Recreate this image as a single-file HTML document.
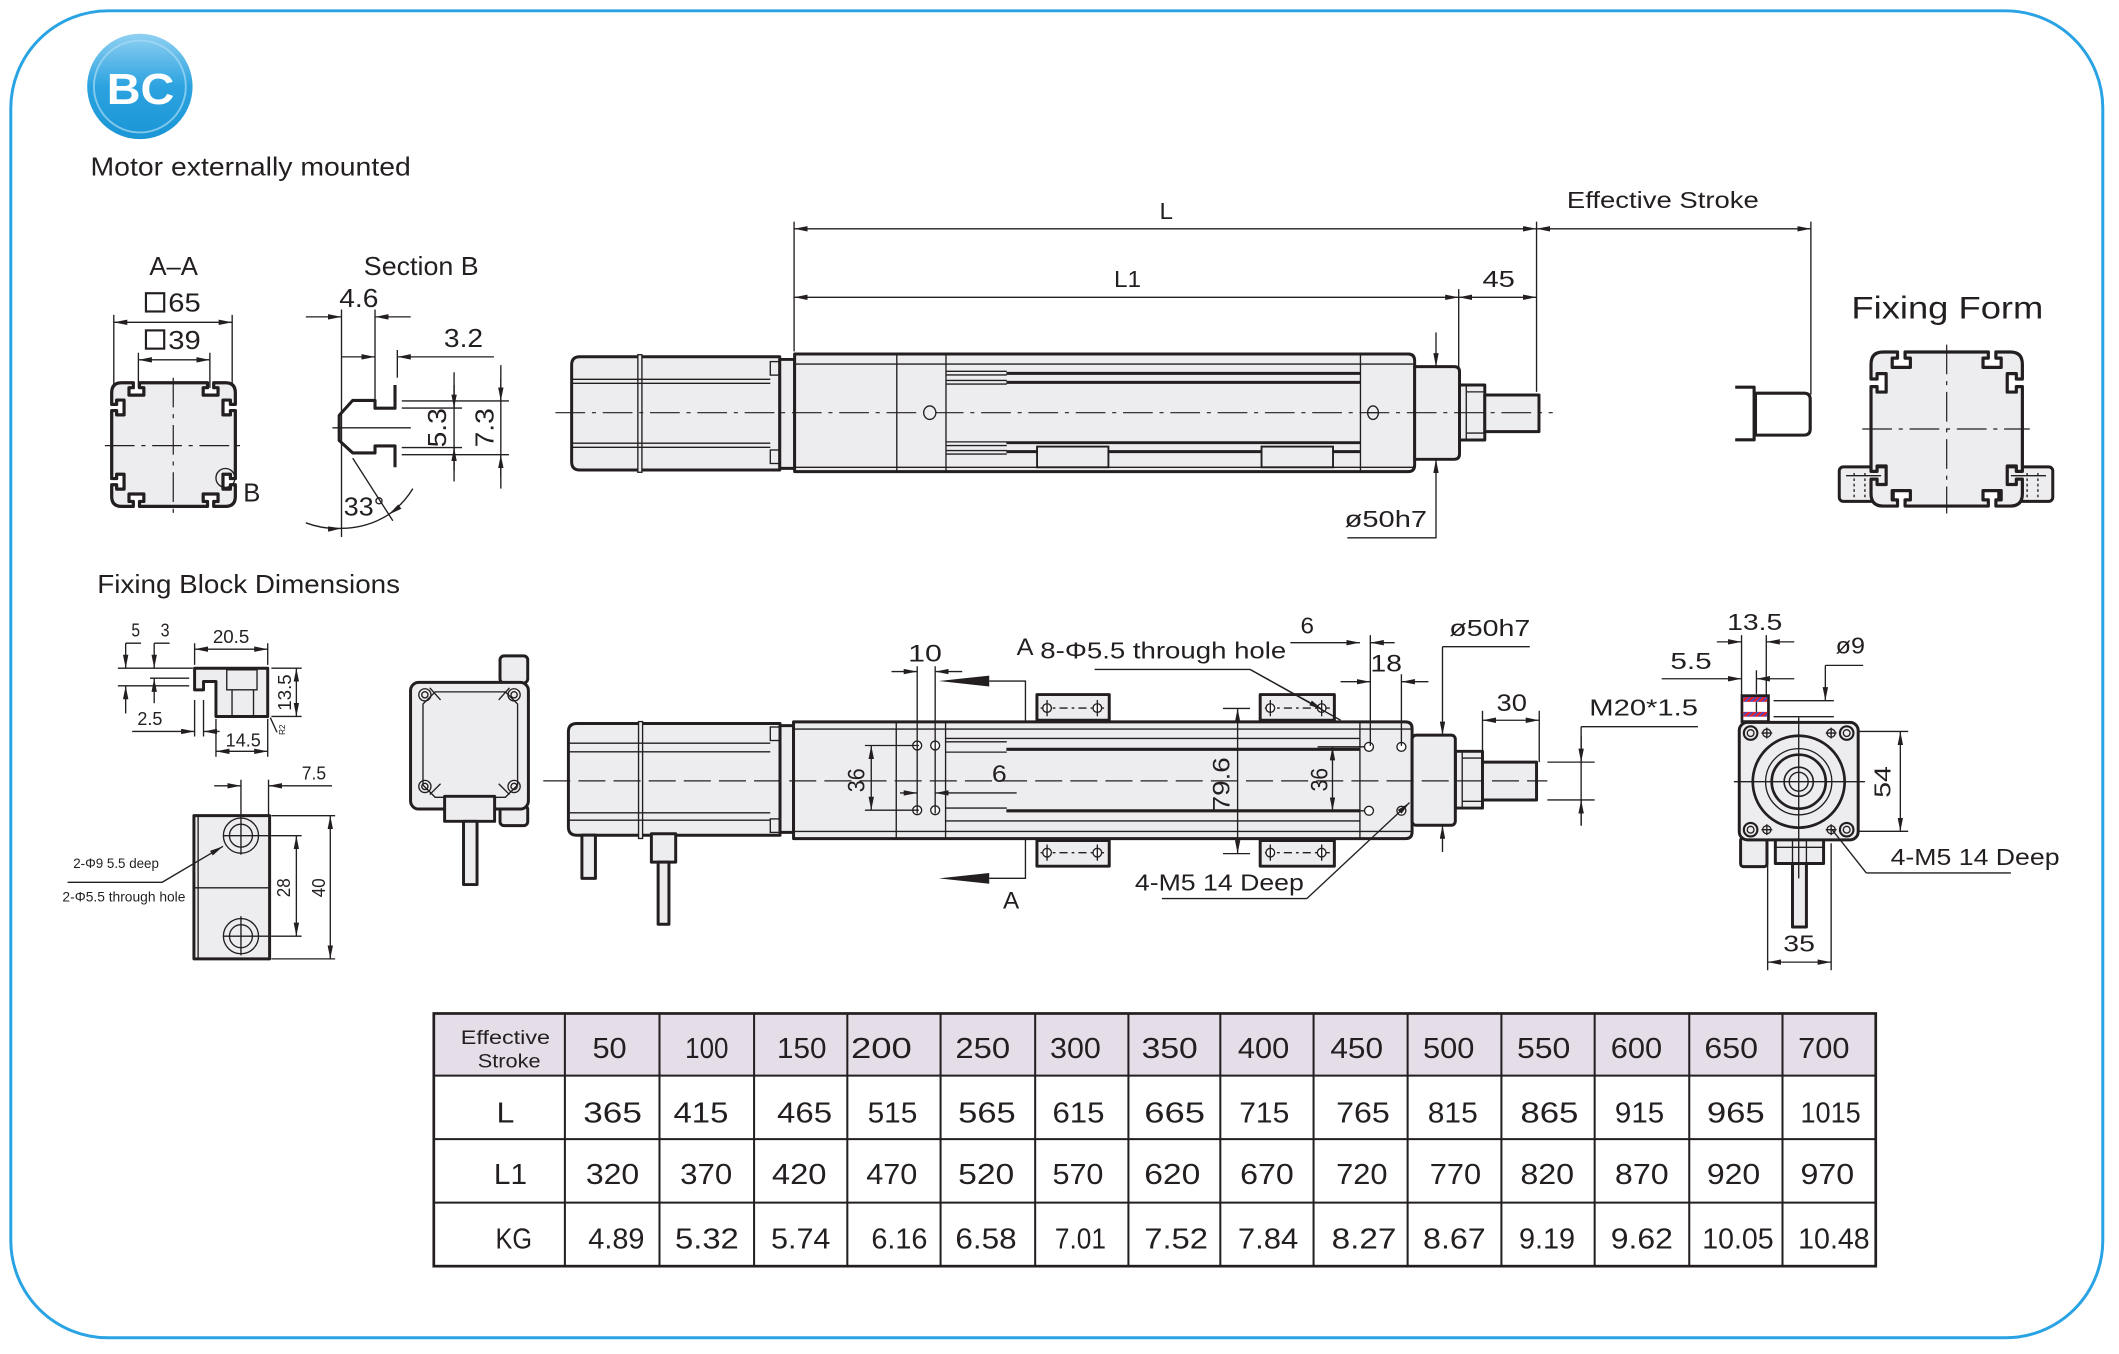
<!DOCTYPE html>
<html><head><meta charset="utf-8"><style>
html,body{margin:0;padding:0;background:#fff;}
svg{display:block;}
text{font-family:"Liberation Sans",sans-serif;fill:#231f20;font-size:17px;}
.t{fill:none;stroke:#231f20;stroke-width:1}
.k{fill:#ededef;stroke:#231f20;stroke-width:2.2;stroke-linejoin:round}
.kn{fill:none;stroke:#231f20;stroke-width:2.3;stroke-linejoin:round}
.c{fill:none;stroke:#231f20;stroke-width:.9;stroke-dasharray:22 5 3 5}
.d{fill:none;stroke:#231f20;stroke-width:.9;stroke-dasharray:20 6}
.m{marker-end:url(#a)}
.mm{marker-start:url(#a);marker-end:url(#a)}
.tb{font-size:21px}
</style></head><body>
<svg width="2119" height="1354" viewBox="0 0 1568 1002" preserveAspectRatio="none" xmlns="http://www.w3.org/2000/svg">
<defs>
<marker id="a" viewBox="0 0 10 4" refX="10" refY="2" markerWidth="10" markerHeight="4" markerUnits="userSpaceOnUse" orient="auto-start-reverse"><path d="M0,0L10,2L0,4z" fill="#231f20"/></marker>
<linearGradient id="g2" x1="0" y1="0" x2="0" y2="1"><stop offset="0" stop-color="#8fd0f2"/><stop offset="0.5" stop-color="#2ca3e0"/><stop offset="1" stop-color="#1a95d5"/></linearGradient>
<pattern id="h" width="3" height="3" patternUnits="userSpaceOnUse" patternTransform="rotate(45)"><rect width="3" height="3" fill="#3a4fd0"/><rect width="1.8" height="3" fill="#e8202a"/></pattern>
<path id="pf" d="M-42,-50H-32.5V-46H-36V-40H-24V-46H-27.5V-50H27.5V-46H24V-40H36V-46H32.5V-50H42Q50,-50 50,-42V-32.5H46V-36H40V-24H46V-27.5H50V27.5H46V24H40V36H46V32.5H50V42Q50,50 42,50H32.5V46H36V40H24V46H27.5V50H-27.5V46H-24V40H-36V46H-32.5V50H-42Q-50,50 -50,42V32.5H-46V36H-40V24H-46V27.5H-50V-27.5H-46V-24H-40V-36H-46V-32.5H-50V-42Q-50,-50 -42,-50Z"/>
</defs>
<rect width="1568" height="1002" fill="#fff"/>
<rect x="8" y="8" width="1548" height="982" rx="72" fill="none" stroke="#29a3e3" stroke-width="2.2"/>

<!-- badge -->
<circle cx="103.5" cy="64" r="39" fill="url(#g2)"/>
<circle cx="103.5" cy="64" r="34" fill="none" stroke="#a8dcf5" stroke-width="1.4" opacity="0.7"/>
<text x="104" y="77" text-anchor="middle" font-weight="bold" style="font-size:32px;fill:#fff" textLength="50" lengthAdjust="spacingAndGlyphs">BC</text>
<text x="67" y="130" style="font-size:19px" textLength="237" lengthAdjust="spacingAndGlyphs">Motor externally mounted</text>

<!-- A-A -->
<text x="128.5" y="203.5" text-anchor="middle" style="font-size:19px" textLength="36" lengthAdjust="spacingAndGlyphs">A–A</text>
<rect x="108" y="217" width="13.5" height="13.5" fill="none" stroke="#231f20" stroke-width="1.6"/>
<text x="124.5" y="230.5" style="font-size:19px" textLength="24" lengthAdjust="spacingAndGlyphs">65</text>
<path class="t" d="M84.2,233V287M171.8,233V287"/>
<path class="t mm" d="M84.2,238.5H171.8"/>
<rect x="108" y="244.5" width="13.5" height="13.5" fill="none" stroke="#231f20" stroke-width="1.6"/>
<text x="124.5" y="258.3" style="font-size:19px" textLength="24" lengthAdjust="spacingAndGlyphs">39</text>
<path class="t" d="M102.4,261V287M155.3,261V287"/>
<path class="t mm" d="M102.4,266.3H155.3"/>
<use href="#pf" transform="translate(128.4,329) scale(0.915)" fill="#ededef" stroke="#231f20" stroke-width="2.6" stroke-linejoin="round"/>
<path class="c" d="M77.6,329.8H178.4M128.2,279.5V381.5"/>
<circle cx="166.8" cy="353.7" r="7" class="t"/>
<text x="180" y="371" style="font-size:19px">B</text>

<!-- Section B -->
<text x="269.2" y="203.5" style="font-size:19px" textLength="85" lengthAdjust="spacingAndGlyphs">Section B</text>
<text x="265.5" y="227.3" text-anchor="middle" style="font-size:19px" textLength="29" lengthAdjust="spacingAndGlyphs">4.6</text>
<path class="t m" d="M226.3,234.5H252.7"/>
<path class="t m" d="M303.9,234.5H277.5"/>
<path class="t" d="M252.7,229V397.4M277.5,229V295.5"/>
<text x="343" y="256.9" text-anchor="middle" style="font-size:19px" textLength="29" lengthAdjust="spacingAndGlyphs">3.2</text>
<path class="t m" d="M252.7,264.1H277.5"/>
<path class="t m" d="M365.5,264.1H294"/>
<path class="t" d="M294,259V279.5"/>
<path class="kn" d="M292.3,284.9V302.1H277.5V296.3H261L251,307.4V326L261,335.2H277.5V330H292.3V345.8"/>
<path class="t" d="M246,316.6H304"/>
<path class="t" d="M297.3,296.7H376.6M297.3,336.5H376.6M297.3,302H341.9M297.3,331.2H341.9M336,275.5V356.3M370.6,270.2V361.6"/>
<path class="t m" d="M336,285V302"/><path class="t m" d="M336,348V331.2"/>
<path class="t m" d="M370.6,280V296.7"/><path class="t m" d="M370.6,353V336.5"/>
<text transform="translate(330,316.6) rotate(-90)" text-anchor="middle" style="font-size:19px" textLength="29" lengthAdjust="spacingAndGlyphs">5.3</text>
<text transform="translate(365,316.6) rotate(-90)" text-anchor="middle" style="font-size:19px" textLength="29" lengthAdjust="spacingAndGlyphs">7.3</text>
<path class="t" d="M261,339L290.7,385.4"/>
<path class="t m" d="M226.3,386.9A65,65 0 0 0 252.7,391"/>
<path class="t" d="M252.7,391A65,65 0 0 0 287.7,380.7"/>
<path class="t m" d="M305.5,361.6A65,65 0 0 1 287.7,380.7"/>
<text x="254.4" y="381.5" style="font-size:19px" textLength="30" lengthAdjust="spacingAndGlyphs">33°</text>

<!-- TOP DRAWING -->
<path class="t" d="M587.6,164V260M1137,164V290M1340,164V292M1079.4,214V273"/>
<path class="t mm" d="M587.6,169.3H1137"/>
<path class="t mm" d="M1137,169.3H1340"/>
<text x="858" y="162" textLength="10" lengthAdjust="spacingAndGlyphs">L</text>
<text x="1159.5" y="154" textLength="142" lengthAdjust="spacingAndGlyphs">Effective Stroke</text>
<path class="t mm" d="M587.6,220H1079.4"/>
<path class="t mm" d="M1079.4,220H1137"/>
<text x="824.3" y="212.3" textLength="20" lengthAdjust="spacingAndGlyphs">L1</text>
<text x="1097" y="212.3" textLength="24" lengthAdjust="spacingAndGlyphs">45</text>

<path class="k" d="M429,264H577V347.8H429Q423,347.8 423,341.8V270Q423,264 429,264Z"/>
<rect x="472" y="262.5" width="3" height="87" fill="#ededef" stroke="#231f20" stroke-width="1"/>
<path class="t" d="M423,280.7H570M423,283.7H570M423,328H570M423,331H570"/>
<rect x="570" y="267.6" width="7" height="10" class="t"/>
<rect x="570" y="333" width="7" height="10" class="t"/>
<rect x="577" y="266" width="11" height="80.6" class="k" stroke-width="1.6"/>
<path class="k" d="M588,262H1042Q1046.8,262 1046.8,267V344Q1046.8,349 1042,349H588Z"/>
<path class="t" d="M588,269.4H1046.8M588,345.8H1046.8M663.6,262V349M700,262V349M1006.7,262V349"/>
<path class="t" d="M700,274.8H745M700,277.5H745M700,281.5H745M700,284.2H745M700,327H745M700,329.7H745M700,333.4H745M700,336H745"/>
<path fill="none" stroke="#231f20" stroke-width="2.2" d="M744.7,276.3H1006.7M744.7,283H1006.7M744.7,327.6H1006.7M744.7,334.2H1006.7"/>
<rect x="767.4" y="330.5" width="52.8" height="15.3" fill="#ededef" stroke="#231f20" stroke-width="1.4"/>
<rect x="933.5" y="330.5" width="52.9" height="15.3" fill="#ededef" stroke="#231f20" stroke-width="1.4"/>
<path class="k" d="M1046.8,271.3H1076Q1080,271.3 1080,275V336Q1080,339.9 1076,339.9H1046.8Z"/>
<rect x="1080" y="284.9" width="18.7" height="40.7" class="k" stroke-width="1.8"/>
<path class="t" d="M1085,284.9V325.6M1085,290H1098.7M1085,320.5H1098.7"/>
<rect x="1098.7" y="292.3" width="40.1" height="27.1" class="k"/>
<path class="c" d="M411,305.4H1149"/>
<ellipse cx="688" cy="305.4" rx="4.5" ry="5" fill="#ededef" stroke="#231f20" stroke-width="1"/>
<ellipse cx="1016" cy="305.4" rx="4" ry="5" fill="#ededef" stroke="#231f20" stroke-width="1"/>
<path class="t" d="M1012,305.4H1020"/>
<path class="t m" d="M1062.6,246V271.3"/>
<path class="t m" d="M1062.6,398V340"/>
<path class="t" d="M997,398H1063"/>
<text x="995" y="390" textLength="61" lengthAdjust="spacingAndGlyphs">ø50h7</text>
<!-- U bracket -->
<path class="kn" d="M1284,286.5H1298V325.5H1284"/>
<path class="kn" fill="#fff" d="M1299,291H1335Q1339.5,291 1339.5,295.5V317.5Q1339.5,322 1335,322H1299Z"/>
<!-- Fixing form -->
<text x="1370" y="235.7" style="font-size:23px" textLength="142" lengthAdjust="spacingAndGlyphs">Fixing Form</text>
<rect x="1361" y="345.5" width="40" height="25.5" rx="3" class="k" stroke-width="2"/>
<rect x="1479" y="345.5" width="40" height="25.5" rx="3" class="k" stroke-width="2"/>
<path class="t" stroke-dasharray="2 2" d="M1372,350V371M1380,350V371M1500,350V371M1508,350V371"/>
<use href="#pf" transform="translate(1440.5,317.5) scale(1.12,1.14)" fill="#ededef" stroke="#231f20" stroke-width="2.1" stroke-linejoin="round"/>
<path class="t" d="M1366,352H1392M1488,352H1514"/>
<path class="c" d="M1378,317.5H1502M1440.5,255V380"/>

<!-- FIXING BLOCK DIMENSIONS -->
<text x="72" y="439" style="font-size:19px" textLength="224" lengthAdjust="spacingAndGlyphs">Fixing Block Dimensions</text>
<path class="k" d="M144,494.5H198.1V530.2H159.8V504.3H150.6V510.5H144Z"/>
<path class="t" d="M167.8,495.7H190.2V510.5H167.8ZM171.7,510.5V530.2M187.6,510.5V530.2"/>
<path class="t" d="M144,476V492M198.1,476V492"/>
<path class="t mm" d="M144,480.4H198.1"/>
<text x="171" y="476" text-anchor="middle" style="font-size:14px" textLength="27" lengthAdjust="spacingAndGlyphs">20.5</text>
<path class="t" d="M200.8,494.5H223.2M200.8,530.2H223.2"/>
<path class="t mm" d="M219.3,494.5V530.2"/>
<text transform="translate(215.3,512.5) rotate(-90)" text-anchor="middle" style="font-size:14px" textLength="27" lengthAdjust="spacingAndGlyphs">13.5</text>
<path class="t" d="M200,531L205,542"/>
<text transform="translate(211,540) rotate(-90)" text-anchor="middle" style="font-size:6px">R2</text>
<path class="t" d="M159.8,532V560M198.1,532V560"/>
<path class="t mm" d="M159.8,556H198.1"/>
<text x="180" y="552.4" text-anchor="middle" style="font-size:14px" textLength="26" lengthAdjust="spacingAndGlyphs">14.5</text>
<text x="97.2" y="471" style="font-size:14px" textLength="6.4" lengthAdjust="spacingAndGlyphs">5</text>
<text x="118.9" y="471" style="font-size:14px" textLength="6.6" lengthAdjust="spacingAndGlyphs">3</text>
<path class="t" d="M93,476H104.4M114.1,476H125.5M87.2,494.5H142.7M111,501.9H140M87.2,507.5H140"/>
<path class="t m" d="M93,476V494.5"/><path class="t m" d="M93,528V507.5"/>
<path class="t m" d="M114.1,476V494.5"/><path class="t m" d="M114.1,520.4V502"/>
<text x="101.7" y="536.4" style="font-size:14px" textLength="18.5" lengthAdjust="spacingAndGlyphs">2.5</text>
<path class="t" d="M144,518V545M150.6,518V545"/>
<path class="t m" d="M97.8,541.3H144"/><path class="t m" d="M162.5,541.3H150.6"/>
<rect x="143.5" y="603.6" width="56" height="106" class="k" stroke-width="2.4"/>
<path class="t" d="M146.6,604.5V708.7M143.5,657H199.5"/>
<circle cx="178.3" cy="618.4" r="13" class="t"/><circle cx="178.3" cy="618.4" r="8.5" class="t"/>
<circle cx="178.3" cy="692.8" r="13" class="t"/><circle cx="178.3" cy="692.8" r="8.5" class="t"/>
<path class="t" d="M165,618.4H200.8M165,692.8H200.8M178.3,577V632.5M178.3,678V707"/>
<path class="t" d="M198.7,577V603"/>
<path class="t m" d="M158.5,581.5H178.3"/><path class="t m" d="M245.7,581.5H198.7"/>
<text x="223.3" y="577" style="font-size:14px" textLength="18" lengthAdjust="spacingAndGlyphs">7.5</text>
<path class="t" d="M200.8,618.4H223.2M200.8,692.8H223.2M200.8,603.6H248M200.8,709.6H248"/>
<path class="t mm" d="M219.3,618.4V692.8"/>
<path class="t mm" d="M244.4,603.6V709.6"/>
<text transform="translate(214.5,657) rotate(-90)" text-anchor="middle" style="font-size:14px" textLength="14" lengthAdjust="spacingAndGlyphs">28</text>
<text transform="translate(240.4,657) rotate(-90)" text-anchor="middle" style="font-size:14px" textLength="14" lengthAdjust="spacingAndGlyphs">40</text>
<path class="t m" d="M50,652.9H120L165,626.3"/>
<text x="54.2" y="642.3" style="font-size:10.5px" textLength="63.4" lengthAdjust="spacingAndGlyphs">2-Φ9 5.5 deep</text>
<text x="46.2" y="667" style="font-size:10.5px" textLength="91" lengthAdjust="spacingAndGlyphs">2-Φ5.5 through hole</text>

<!-- motor end view (left) -->
<rect x="370" y="485.4" width="20.5" height="20" rx="3" class="k"/>
<rect x="370" y="596" width="20.5" height="15" rx="3" class="k"/>
<rect x="303.8" y="505" width="87.2" height="93.7" rx="6" class="k" stroke-width="2.4"/>
<path class="t" d="M322,512H374L383,521V581L374,590H322L313,581V521Z"/>
<circle cx="314.4" cy="514.2" r="4.5" class="t"/><circle cx="314.4" cy="514.2" r="2.3" class="t"/>
<circle cx="380.4" cy="514.2" r="4.5" class="t"/><circle cx="380.4" cy="514.2" r="2.3" class="t"/>
<circle cx="314.4" cy="582" r="4.5" class="t"/><circle cx="314.4" cy="582" r="2.3" class="t"/>
<circle cx="380.4" cy="582" r="4.5" class="t"/><circle cx="380.4" cy="582" r="2.3" class="t"/>
<path class="t" d="M318,509L326,518M377,509L369,518M318,588L326,580M377,588L369,580"/>
<rect x="329" y="589.3" width="37" height="18.5" class="k"/>
<rect x="343" y="607.8" width="10" height="46.8" class="k" stroke-width="1.8"/>

<!-- LOWER DRAWING -->
<rect x="767.3" y="514" width="53.5" height="19" class="k"/>
<rect x="932.5" y="514" width="54.9" height="19" class="k"/>
<rect x="767.3" y="622" width="53.5" height="19" class="k"/>
<rect x="932.5" y="622" width="54.9" height="19" class="k"/>
<path class="t" stroke-dasharray="6 3 2 3" d="M770,524H817M936,524H984M770,631H817M936,631H984"/>
<g fill="#fff" stroke="#231f20" stroke-width="1">
<circle cx="774.8" cy="524" r="3.2"/><circle cx="812" cy="524" r="3.2"/><circle cx="940" cy="524" r="3.2"/><circle cx="978" cy="524" r="3.2"/>
<circle cx="774.8" cy="631" r="3.2"/><circle cx="812" cy="631" r="3.2"/><circle cx="940" cy="631" r="3.2"/><circle cx="978" cy="631" r="3.2"/>
</g>
<path class="t" d="M774.8,518V530M812,518V530M940,518V530M978,518V530M774.8,625V637M812,625V637M940,625V637M978,625V637"/>
<path class="k" d="M427,535.4H577.2V618.1H427Q420.6,618.1 420.6,612V541.5Q420.6,535.4 427,535.4Z"/>
<rect x="472.5" y="534" width="3" height="86.5" fill="#ededef" stroke="#231f20" stroke-width="1"/>
<path class="t" d="M420.6,550H570M420.6,556.4H570M420.6,601.5H570M420.6,607H570"/>
<rect x="570" y="538" width="7.2" height="10" class="t"/>
<rect x="570" y="606" width="7.2" height="10" class="t"/>
<rect x="577.2" y="537" width="10" height="79" class="k" stroke-width="1.6"/>
<rect x="430.6" y="618" width="10" height="32" class="k" stroke-width="1.8"/>
<rect x="482" y="617" width="18" height="21" class="k" stroke-width="1.8"/>
<rect x="487" y="638" width="8" height="46" class="k" stroke-width="1.8"/>
<path class="k" d="M587.2,534.2H1040Q1044.9,534.2 1044.9,539V615.8Q1044.9,620.6 1040,620.6H587.2Z"/>
<path class="t" d="M587.2,539.5H1044.9M587.2,615.3H1044.9M663.2,534.2V620.6M699.7,534.2V620.6M1006.3,534.2V620.6"/>
<path class="t" d="M699.7,546.5H1006.3M699.7,549H745M699.7,556.6H745M699.7,598H745M699.7,607.5H1006.3"/>
<path fill="none" stroke="#231f20" stroke-width="2.3" d="M744.7,554.5H1006.3M744.7,600H1006.3"/>
<g fill="#fff" stroke="#231f20" stroke-width="1">
<circle cx="678.7" cy="551.7" r="3.3"/><circle cx="692" cy="551.7" r="3.3"/><circle cx="678.7" cy="599.6" r="3.3"/><circle cx="692" cy="599.6" r="3.3"/>
<circle cx="1013" cy="552.7" r="3.3"/><circle cx="1037" cy="552.7" r="3.3"/><circle cx="1013" cy="600" r="3.3"/><circle cx="1037" cy="600" r="3.3"/>
</g>
<rect x="1044.9" y="544" width="32" height="66.7" rx="3" class="k"/>
<rect x="1077" y="556" width="20" height="42" class="k" stroke-width="1.8"/>
<path class="t" d="M1082,556V598M1082,561H1097M1082,593H1097"/>
<rect x="1097" y="564" width="40" height="28" class="k"/>
<path class="d" d="M402,577.9H1145"/>
<!-- dims lower -->
<path class="t" d="M678.7,493V602M692,493V602"/>
<path class="t m" d="M659.7,497H678.7"/><path class="t m" d="M712,497H692"/>
<text x="672" y="489.7" style="font-size:18px" textLength="25" lengthAdjust="spacingAndGlyphs">10</text>
<path d="M694.7,504L732,500V508Z" fill="#231f20"/>
<path class="t" d="M732,504H758.8V534"/>
<path d="M694.7,650L732,646V654Z" fill="#231f20"/>
<path class="t" d="M732,650H758.8V621"/>
<text x="752.3" y="484.8" style="font-size:18px" textLength="12.5" lengthAdjust="spacingAndGlyphs">A</text>
<text x="742.2" y="672.5" style="font-size:18px" textLength="12" lengthAdjust="spacingAndGlyphs">A</text>
<text x="769.8" y="487.2" textLength="182" lengthAdjust="spacingAndGlyphs">8-Φ5.5 through hole</text>
<path class="t" d="M810,495.4H925L992,533"/>
<path class="t m" d="M925,495.4L978.5,525"/>
<path class="t" d="M640,551.7H680M640,599.6H680"/>
<path class="t mm" d="M644.7,551.7V599.6"/>
<text transform="translate(639.7,577.4) rotate(-90)" text-anchor="middle" style="font-size:18px" textLength="17.7" lengthAdjust="spacingAndGlyphs">36</text>
<path class="t m" d="M666,586.8H678.7"/><path class="t m" d="M752.3,586.8H692"/>
<text x="734" y="578.6" style="font-size:18px" textLength="11" lengthAdjust="spacingAndGlyphs">6</text>
<path class="t" d="M905,524.3H925M905,631.7H925"/>
<path class="t mm" d="M915.8,524.3V631.7"/>
<text transform="translate(909.8,580.4) rotate(-90)" text-anchor="middle" style="font-size:18px" textLength="40" lengthAdjust="spacingAndGlyphs">79.6</text>
<path class="t" d="M975,552.7H1010M975,600H1010"/>
<path class="t mm" d="M986,552.7V600"/>
<text transform="translate(982.3,577) rotate(-90)" text-anchor="middle" style="font-size:18px" textLength="17.5" lengthAdjust="spacingAndGlyphs">36</text>
<text x="839.8" y="658.9" textLength="125" lengthAdjust="spacingAndGlyphs">4-M5  14 Deep</text>
<path class="t" d="M859.8,665H967"/>
<path class="t m" d="M967,665L1043,594"/>
<path class="t" d="M1014,470V552M1037,499V552"/>
<path class="t m" d="M954.8,475.6H1006.3"/><path class="t m" d="M1032,475.6H1014"/>
<text x="962.3" y="468.7" textLength="10" lengthAdjust="spacingAndGlyphs">6</text>
<path class="t m" d="M992,504.5H1014"/><path class="t m" d="M1057,504.5H1037"/>
<text x="1014" y="497" style="font-size:18px" textLength="23.4" lengthAdjust="spacingAndGlyphs">18</text>
<path class="t" d="M1067.4,478.6H1132"/>
<path class="t m" d="M1067.4,478.6V544"/>
<path class="t m" d="M1067.4,630.5V610.7"/>
<text x="1072.4" y="470.7" textLength="60" lengthAdjust="spacingAndGlyphs">ø50h7</text>
<path class="t" d="M1097,526V564M1139,526V564"/>
<path class="t mm" d="M1097,533H1139"/>
<text x="1107.4" y="526.3" style="font-size:18px" textLength="22.5" lengthAdjust="spacingAndGlyphs">30</text>
<path class="t" d="M1145,564H1180M1145,592H1180M1170,537.8H1256.4M1170,537.8V611"/>
<path class="t m" d="M1170,545V564"/><path class="t m" d="M1170,611V592"/>
<text x="1176" y="529.6" textLength="80.5" lengthAdjust="spacingAndGlyphs">M20*1.5</text>

<!-- RIGHT END VIEW -->
<rect x="1289" y="514.8" width="19.6" height="19.2" fill="#fff" stroke="#231f20" stroke-width="2"/>
<rect x="1290" y="515.8" width="17.6" height="3.6" fill="url(#h)"/>
<rect x="1290" y="526.8" width="17.6" height="3.6" fill="url(#h)"/>
<path class="t" d="M1299.7,519.5V526.8"/>
<path class="t" d="M1312.4,518.5H1357M1312.4,530.4H1357"/>
<path class="t" d="M1288.7,470V514.8M1307,470V514.8M1299.7,496V513.5"/>
<path class="t m" d="M1270.4,475H1288.7"/><path class="t m" d="M1327.7,475H1307"/>
<text x="1278" y="466.4" textLength="40.8" lengthAdjust="spacingAndGlyphs">13.5</text>
<path class="t m" d="M1229.6,502.3H1288.7"/><path class="t m" d="M1327.7,502.3H1299.7"/>
<text x="1236" y="495" textLength="30.6" lengthAdjust="spacingAndGlyphs">5.5</text>
<path class="t" d="M1378.7,492.4H1350.7"/>
<path class="t m" d="M1350.7,492.4V518.5"/>
<text x="1358.3" y="483.7" textLength="21.7" lengthAdjust="spacingAndGlyphs">ø9</text>
<rect x="1288" y="620" width="19.5" height="21.3" rx="2" class="k"/>
<rect x="1313.7" y="620" width="35.7" height="19" class="k"/>
<path class="t" d="M1326.4,621V639M1336.7,621V639M1313.7,627H1349.4"/>
<rect x="1326.4" y="639" width="10.3" height="47" class="k" stroke-width="1.8"/>
<rect x="1287" y="534.6" width="88" height="86.9" rx="6" class="k" stroke-width="2.4"/>
<g fill="none" stroke="#231f20">
<circle cx="1295.4" cy="542.5" r="5" stroke-width="1.6"/><circle cx="1295.4" cy="542.5" r="2.5"/>
<circle cx="1366.5" cy="542.5" r="5" stroke-width="1.6"/><circle cx="1366.5" cy="542.5" r="2.5"/>
<circle cx="1295.4" cy="614" r="5" stroke-width="1.6"/><circle cx="1295.4" cy="614" r="2.5"/>
<circle cx="1366.5" cy="614" r="5" stroke-width="1.6"/><circle cx="1366.5" cy="614" r="2.5"/>
<circle cx="1307.4" cy="542.5" r="3"/><circle cx="1355" cy="542.5" r="3"/>
<circle cx="1307.4" cy="614" r="3"/><circle cx="1355" cy="614" r="3"/>
<path d="M1303.4,542.5H1311.4M1307.4,538.5V546.5M1351,542.5H1359M1355,538.5V546.5M1303.4,614H1311.4M1307.4,610V618M1351,614H1359M1355,610V618"/>
<circle cx="1331" cy="578.5" r="34" stroke-width="2"/>
<circle cx="1331" cy="578.5" r="24.5"/>
<circle cx="1331" cy="578.5" r="20" stroke-width="2"/>
<circle cx="1331" cy="578.5" r="10.8" stroke-width="1.2"/>
<circle cx="1331" cy="578.5" r="7"/>
<path d="M1331,531V650M1283,578.5H1380"/>
</g>
<path class="t" d="M1375,541.3H1412M1375,615.2H1412"/>
<path class="t mm" d="M1406.2,541.3V615.2"/>
<text transform="translate(1399,578.7) rotate(-90)" text-anchor="middle" textLength="23.4" lengthAdjust="spacingAndGlyphs">54</text>
<path class="t" d="M1308,624V718M1355,624V718"/>
<path class="t mm" d="M1308,712H1355"/>
<text x="1319.6" y="704" textLength="23.4" lengthAdjust="spacingAndGlyphs">35</text>
<path class="t" d="M1381,646H1488M1381,646L1355.7,614"/>
<text x="1399" y="640" textLength="125" lengthAdjust="spacingAndGlyphs">4-M5  14 Deep</text>

<!-- TABLE -->
<rect x="321" y="750" width="1067" height="46" fill="#e5dde8"/>
<g fill="none" stroke="#231f20">
<rect x="321" y="750" width="1067" height="187" stroke-width="2"/>
<path stroke-width="1.5" d="M321,796H1388M321,843H1388M321,890H1388M418,750V937M488,750V937M558,750V937M627,750V937M696,750V937M766,750V937M835,750V937M903,750V937M972,750V937M1041.6,750V937M1111,750V937M1180,750V937M1250,750V937M1319,750V937"/>
</g>
<text x="341" y="772.6" style="font-size:14.5px" textLength="66" lengthAdjust="spacingAndGlyphs">Effective</text>
<text x="353.5" y="790" style="font-size:14.5px" textLength="46.5" lengthAdjust="spacingAndGlyphs">Stroke</text>
<g class="tb">
<text x="438.4" y="783" class="tb" textLength="25.3" lengthAdjust="spacingAndGlyphs">50</text>
<text x="507" y="783" class="tb" textLength="32" lengthAdjust="spacingAndGlyphs">100</text>
<text x="575" y="783" class="tb" textLength="36.6" lengthAdjust="spacingAndGlyphs">150</text>
<text x="629.7" y="783" class="tb" textLength="45" lengthAdjust="spacingAndGlyphs">200</text>
<text x="707" y="783" class="tb" textLength="40.5" lengthAdjust="spacingAndGlyphs">250</text>
<text x="777" y="783" class="tb" textLength="37.6" lengthAdjust="spacingAndGlyphs">300</text>
<text x="844.8" y="783" class="tb" textLength="41.5" lengthAdjust="spacingAndGlyphs">350</text>
<text x="916" y="783" class="tb" textLength="38" lengthAdjust="spacingAndGlyphs">400</text>
<text x="984.4" y="783" class="tb" textLength="39" lengthAdjust="spacingAndGlyphs">450</text>
<text x="1053" y="783" class="tb" textLength="38" lengthAdjust="spacingAndGlyphs">500</text>
<text x="1122.5" y="783" class="tb" textLength="39.5" lengthAdjust="spacingAndGlyphs">550</text>
<text x="1191.9" y="783" class="tb" textLength="38" lengthAdjust="spacingAndGlyphs">600</text>
<text x="1261.2" y="783" class="tb" textLength="39.7" lengthAdjust="spacingAndGlyphs">650</text>
<text x="1330.6" y="783" class="tb" textLength="38" lengthAdjust="spacingAndGlyphs">700</text>

<text x="367.4" y="830.6" class="tb" textLength="13.2" lengthAdjust="spacingAndGlyphs">L</text>
<text x="431.6" y="830.6" class="tb" textLength="43.4" lengthAdjust="spacingAndGlyphs">365</text>
<text x="498.4" y="830.6" class="tb" textLength="40.6" lengthAdjust="spacingAndGlyphs">415</text>
<text x="575" y="830.6" class="tb" textLength="40.7" lengthAdjust="spacingAndGlyphs">465</text>
<text x="642" y="830.6" class="tb" textLength="36.8" lengthAdjust="spacingAndGlyphs">515</text>
<text x="709" y="830.6" class="tb" textLength="42.6" lengthAdjust="spacingAndGlyphs">565</text>
<text x="778.8" y="830.6" class="tb" textLength="38.5" lengthAdjust="spacingAndGlyphs">615</text>
<text x="846.7" y="830.6" class="tb" textLength="45" lengthAdjust="spacingAndGlyphs">665</text>
<text x="917" y="830.6" class="tb" textLength="37" lengthAdjust="spacingAndGlyphs">715</text>
<text x="988.7" y="830.6" class="tb" textLength="39.7" lengthAdjust="spacingAndGlyphs">765</text>
<text x="1056.5" y="830.6" class="tb" textLength="37" lengthAdjust="spacingAndGlyphs">815</text>
<text x="1125" y="830.6" class="tb" textLength="43" lengthAdjust="spacingAndGlyphs">865</text>
<text x="1195" y="830.6" class="tb" textLength="36.5" lengthAdjust="spacingAndGlyphs">915</text>
<text x="1263" y="830.6" class="tb" textLength="42.8" lengthAdjust="spacingAndGlyphs">965</text>
<text x="1332.3" y="830.6" class="tb" textLength="44.6" lengthAdjust="spacingAndGlyphs">1015</text>

<text x="365.5" y="876.3" class="tb" textLength="24.5" lengthAdjust="spacingAndGlyphs">L1</text>
<text x="433.5" y="876.3" class="tb" textLength="39.5" lengthAdjust="spacingAndGlyphs">320</text>
<text x="503.3" y="876.3" class="tb" textLength="38.5" lengthAdjust="spacingAndGlyphs">370</text>
<text x="571.2" y="876.3" class="tb" textLength="40.4" lengthAdjust="spacingAndGlyphs">420</text>
<text x="641" y="876.3" class="tb" textLength="37.8" lengthAdjust="spacingAndGlyphs">470</text>
<text x="709" y="876.3" class="tb" textLength="41.5" lengthAdjust="spacingAndGlyphs">520</text>
<text x="778.8" y="876.3" class="tb" textLength="37.7" lengthAdjust="spacingAndGlyphs">570</text>
<text x="846.7" y="876.3" class="tb" textLength="41.5" lengthAdjust="spacingAndGlyphs">620</text>
<text x="917.7" y="876.3" class="tb" textLength="39.7" lengthAdjust="spacingAndGlyphs">670</text>
<text x="988.7" y="876.3" class="tb" textLength="38" lengthAdjust="spacingAndGlyphs">720</text>
<text x="1058" y="876.3" class="tb" textLength="38" lengthAdjust="spacingAndGlyphs">770</text>
<text x="1125" y="876.3" class="tb" textLength="39.8" lengthAdjust="spacingAndGlyphs">820</text>
<text x="1195" y="876.3" class="tb" textLength="39.8" lengthAdjust="spacingAndGlyphs">870</text>
<text x="1263" y="876.3" class="tb" textLength="39.5" lengthAdjust="spacingAndGlyphs">920</text>
<text x="1332.3" y="876.3" class="tb" textLength="39.7" lengthAdjust="spacingAndGlyphs">970</text>

<text x="366.7" y="923.8" class="tb" textLength="27" lengthAdjust="spacingAndGlyphs">KG</text>
<text x="435.3" y="923.8" class="tb" textLength="41.6" lengthAdjust="spacingAndGlyphs">4.89</text>
<text x="499.5" y="923.8" class="tb" textLength="47.2" lengthAdjust="spacingAndGlyphs">5.32</text>
<text x="570.5" y="923.8" class="tb" textLength="44" lengthAdjust="spacingAndGlyphs">5.74</text>
<text x="644.8" y="923.8" class="tb" textLength="41.5" lengthAdjust="spacingAndGlyphs">6.16</text>
<text x="707" y="923.8" class="tb" textLength="45.3" lengthAdjust="spacingAndGlyphs">6.58</text>
<text x="780.6" y="923.8" class="tb" textLength="37.8" lengthAdjust="spacingAndGlyphs">7.01</text>
<text x="846.7" y="923.8" class="tb" textLength="47.2" lengthAdjust="spacingAndGlyphs">7.52</text>
<text x="916" y="923.8" class="tb" textLength="44.7" lengthAdjust="spacingAndGlyphs">7.84</text>
<text x="985.4" y="923.8" class="tb" textLength="47.9" lengthAdjust="spacingAndGlyphs">8.27</text>
<text x="1053" y="923.8" class="tb" textLength="46.4" lengthAdjust="spacingAndGlyphs">8.67</text>
<text x="1124" y="923.8" class="tb" textLength="41.5" lengthAdjust="spacingAndGlyphs">9.19</text>
<text x="1191.9" y="923.8" class="tb" textLength="46" lengthAdjust="spacingAndGlyphs">9.62</text>
<text x="1259.6" y="923.8" class="tb" textLength="52.8" lengthAdjust="spacingAndGlyphs">10.05</text>
<text x="1330.6" y="923.8" class="tb" textLength="52.9" lengthAdjust="spacingAndGlyphs">10.48</text>
</g>
</svg>
</body></html>
